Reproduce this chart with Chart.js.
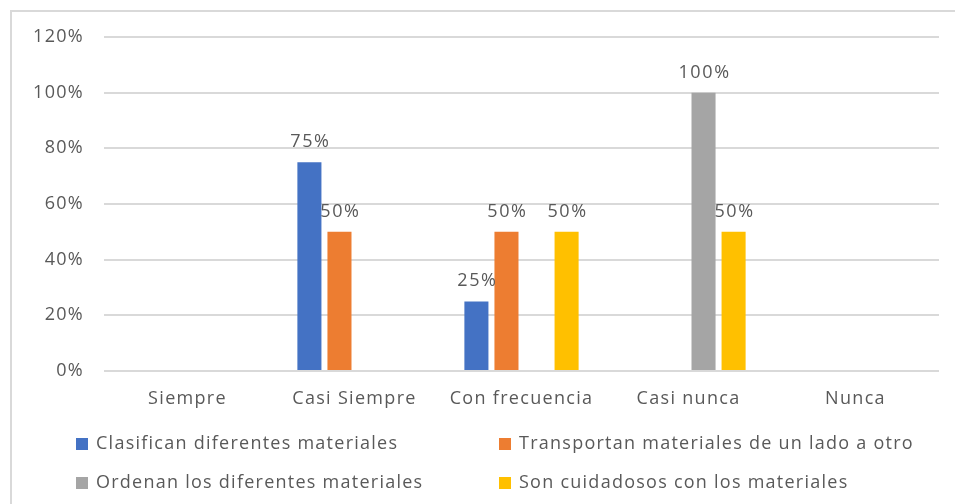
<!DOCTYPE html>
<html>
<head>
<meta charset="utf-8">
<script src="https://cdn.jsdelivr.net/npm/chart.js@4"></script>
<style>
  html, body { margin: 0; padding: 0; background: #fff; }
  #wrap { position: relative; width: 955px; height: 504px; overflow: hidden; }
  #frame { position: absolute; left: 10px; top: 10px; right: -5px; bottom: -5px;
           border-left: 2px solid #d9d9d9; border-top: 2px solid #d9d9d9; }
  canvas { position: absolute; left: 0; top: 0; }
  #legend { position: absolute; left: 76px; top: 430px; width: 860px;
            font-family: "Open Sans", sans-serif; font-size: 18px; color: #595959;
            letter-spacing: 1.25px; }
  .item { position: absolute; white-space: nowrap; line-height: 24px; }
  .item span.box { display: inline-block; width: 12px; height: 12px; margin-right: 8px;
                   vertical-align: -1px; }
</style>
</head>
<body>
<div id="wrap">
  <div id="frame"></div>
  <canvas id="chart" width="955" height="504"></canvas>
  <div id="legend"></div>
</div>
<script>
const categories = ["Siempre", "Casi Siempre", "Con frecuencia", "Casi nunca", "Nunca"];
const seriesNames = [
  "Clasifican diferentes materiales",
  "Transportan materiales de un lado a otro",
  "Ordenan los diferentes materiales",
  "Son cuidadosos con los materiales"
];
const clasifican = [0, 75, 25, 0, 0];
const transportan = [0, 50, 50, 0, 0];
const ordenan = [0, 0, 0, 100, 0];
const cuidadosos = [0, 0, 50, 50, 0];
const yTicks = [0, 20, 40, 60, 80, 100, 120];
const colors = ["#4472C4", "#ED7D31", "#A5A5A5", "#FFC000"];

const FONT = "'Open Sans', sans-serif";
const TEXT = "#595959";

// the original text is set a little wider than Open Sans
const spacing = {
  id: "spacing",
  beforeInit(chart) { chart.ctx.letterSpacing = "1.3px"; },
  beforeDraw(chart) { chart.ctx.letterSpacing = "1.3px"; }
};

const barLabels = {
  id: "barLabels",
  afterDatasetsDraw(chart) {
    const ctx = chart.ctx;
    ctx.save();
    ctx.font = "18px " + FONT;
    ctx.fillStyle = TEXT;
    ctx.textAlign = "center";
    ctx.textBaseline = "alphabetic";
    ctx.letterSpacing = "1.6px";
    chart.data.datasets.forEach((ds, i) => {
      chart.getDatasetMeta(i).data.forEach((bar, j) => {
        const v = ds.data[j];
        if (!v) return;
        ctx.fillText(v + "%", bar.x + 1, bar.y - 15);
      });
    });
    ctx.restore();
  }
};

const allSeries = [clasifican, transportan, ordenan, cuidadosos];

const chart = new Chart(document.getElementById("chart"), {
  type: "bar",
  data: {
    labels: categories,
    datasets: allSeries.map((d, i) => ({
      label: seriesNames[i],
      data: d,
      backgroundColor: colors[i],
      borderWidth: 0,
      categoryPercentage: 0.72,
      barPercentage: 0.8
    }))
  },
  options: {
    responsive: false,
    animation: false,
    layout: { padding: { left: 0, top: 37, right: 16, bottom: 0 } },
    plugins: {
      legend: { display: false },
      tooltip: { enabled: false }
    },
    scales: {
      x: {
        grid: { display: false },
        border: { display: false },
        ticks: { color: TEXT, font: { family: FONT, size: 18 }, padding: 9, maxRotation: 0 },
        afterFit(scale) { scale.height = 133; }
      },
      y: {
        min: 0,
        max: 120,
        grid: { color: "#d9d9d9", lineWidth: 2, drawTicks: false },
        border: { display: false },
        afterBuildTicks(scale) { scale.ticks = yTicks.map(v => ({ value: v })); },
        ticks: {
          color: TEXT,
          font: { family: FONT, size: 18 },
          padding: 20,
          callback: v => v + "%"
        },
        afterFit(scale) { scale.width = 104; }
      }
    }
  },
  plugins: [spacing, barLabels]
});

// legend in two columns, like the original
const legend = document.getElementById("legend");
chart.data.datasets.forEach((ds, i) => {
  const el = document.createElement("div");
  el.className = "item";
  el.style.left = (i % 2 === 0 ? 0 : 423) + "px";
  el.style.top = (Math.floor(i / 2) * 39) + "px";
  el.innerHTML = '<span class="box" style="background:' + ds.backgroundColor + '"></span>' + ds.label;
  legend.appendChild(el);
});
</script>
</body>
</html>
